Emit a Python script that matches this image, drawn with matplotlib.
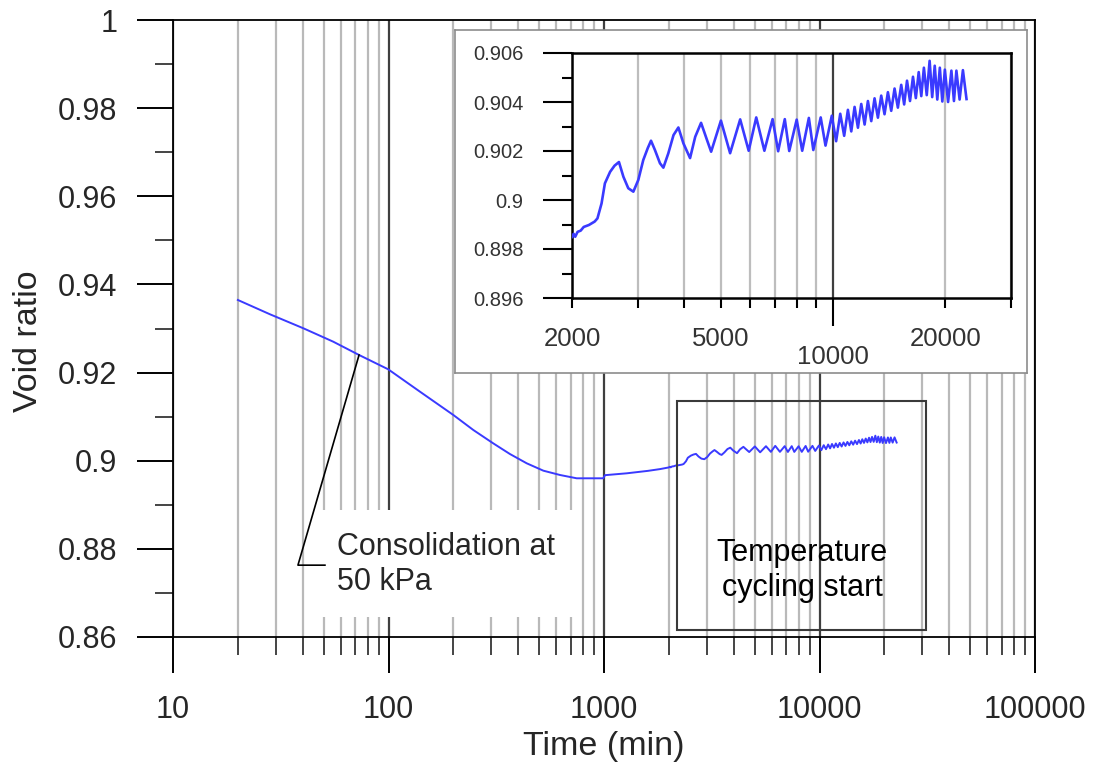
import matplotlib
matplotlib.use("Agg")
import matplotlib.pyplot as plt
from matplotlib.patches import Rectangle
from matplotlib.ticker import (FixedLocator, FuncFormatter, LogLocator,
                               MultipleLocator, NullFormatter)

plt.rcParams['font.family'] = ['Liberation Sans', 'DejaVu Sans']

# Consolidation stage at 50 kPa: time (min) and void ratio
consol_time = [20, 28.2, 40.3, 55.4, 73, 99.7, 140, 200, 247.5, 306, 366,
               438, 523, 625, 747, 992, 1011, 1274, 1600, 1820]
consol_void = [0.93647, 0.93322, 0.93004, 0.92701, 0.92399, 0.92074, 0.91566,
               0.91037, 0.90697, 0.90395, 0.90152, 0.89941, 0.89774, 0.89676,
               0.89601, 0.89601, 0.89672, 0.89714, 0.89770, 0.89810]

# Temperature cycling stage: time (min) and void ratio
cycling_time = [2000, 2020, 2040, 2070, 2110, 2150, 2220, 2300, 2340, 2400,
                2450, 2530, 2600, 2672, 2746, 2830, 2920, 3011, 3104, 3190,
                3256, 3336, 3441, 3514, 3622, 3741, 3855, 3977, 4143, 4277,
                4434, 4599, 4718, 5012, 5304, 5644, 5948, 6232, 6553, 6893,
                7134, 7432, 7639, 7998, 8275, 8622, 8861, 9275, 9554, 9932,
                10200, 10463, 10720, 10970, 11200, 11431, 11670, 11911, 12160,
                12410, 12670, 12930, 13200, 13473, 13750, 14039, 14330, 14628,
                14930, 15242, 15520, 15796, 16090, 16389, 16680, 16978, 17250,
                17530, 17840, 18160, 18450, 18740, 19040, 19340, 19640, 19950,
                20350, 20770, 21100, 21420, 21850, 22300, 22800]
cycling_void = [0.89848, 0.89862, 0.89850, 0.89870, 0.89875, 0.89890, 0.89898,
                0.89912, 0.89925, 0.89986, 0.90068, 0.90115, 0.90140, 0.90155,
                0.90095, 0.90048, 0.90034, 0.90082, 0.90163, 0.90211, 0.90242,
                0.90204, 0.90150, 0.90132, 0.90190, 0.90265, 0.90296, 0.90231,
                0.90171, 0.90258, 0.90315, 0.90245, 0.90197, 0.90324, 0.90191,
                0.90329, 0.90201, 0.90337, 0.90201, 0.90330, 0.90199, 0.90330,
                0.90200, 0.90328, 0.90201, 0.90335, 0.90204, 0.90337, 0.90222,
                0.90344, 0.90240, 0.90352, 0.90262, 0.90368, 0.90280, 0.90380,
                0.90295, 0.90392, 0.90308, 0.90404, 0.90322, 0.90415, 0.90336,
                0.90426, 0.90350, 0.90440, 0.90364, 0.90455, 0.90377, 0.90470,
                0.90390, 0.90487, 0.90404, 0.90503, 0.90416, 0.90522, 0.90424,
                0.90540, 0.90428, 0.90568, 0.90420, 0.90548, 0.90410, 0.90540,
                0.90402, 0.90532, 0.90400, 0.90528, 0.90404, 0.90528, 0.90410,
                0.90530, 0.90412]

time_all = consol_time + cycling_time
void_all = consol_void + cycling_void

x_major_ticks = [10, 100, 1000, 10000, 100000]
inset_labelled_minor = [2000, 5000, 20000]

LINE_COLOR = '#3a3aff'
TEXT_COLOR = '#262626'
W, H = 1098, 769

fig = plt.figure(figsize=(W / 100, H / 100), dpi=100)


def px_axes(left, top, right, bottom):
    return [left / W, (H - bottom) / H, (right - left) / W, (bottom - top) / H]


# ---------------- main axes ----------------
ax = fig.add_axes(px_axes(173, 20, 1035, 637))
ax.set_axisbelow(True)
ax.set_xscale('log')
ax.set_xlim(10, 100000)
ax.set_ylim(0.86, 1.0)

ax.xaxis.set_major_locator(FixedLocator(x_major_ticks))
ax.xaxis.set_major_formatter(FuncFormatter(lambda v, p: f"{v:.0f}"))
ax.xaxis.set_minor_locator(LogLocator(base=10, subs=range(2, 10)))
ax.xaxis.set_minor_formatter(NullFormatter())
ax.yaxis.set_major_locator(MultipleLocator(0.02))
ax.yaxis.set_minor_locator(MultipleLocator(0.01))
ax.yaxis.set_major_formatter(FuncFormatter(lambda v, p: f"{v:g}"))

ax.grid(which='minor', axis='x', color='#b9b9b9', lw=1.6)
ax.grid(which='major', axis='x', color='#3f3f3f', lw=1.6)

ax.tick_params(which='major', direction='out', length=26, width=1.4,
               labelsize=22, colors='black', labelcolor=TEXT_COLOR)
ax.tick_params(which='minor', direction='out', length=13, width=1.4,
               colors='#444444')
ax.tick_params(axis='y', which='major', pad=14)
ax.tick_params(axis='x', which='major', pad=16)
for s in ax.spines.values():
    s.set_linewidth(1.3)
    s.set_color('black')

ax.set_xlabel('Time (min)', fontsize=24.5, color=TEXT_COLOR)
ax.set_ylabel('Void ratio', fontsize=24.5, color=TEXT_COLOR)
ax.xaxis.set_label_coords(0.5, -0.177)
ax.xaxis.label.set_verticalalignment('center')
ax.yaxis.set_label_coords(-0.168, 0.48)
ax.yaxis.label.set_verticalalignment('center')

ax.plot(time_all, void_all, color=LINE_COLOR, lw=1.4, zorder=3,
        solid_joinstyle='round')

# white backing for the consolidation note
ax.add_patch(Rectangle((43.2, 0.8645), 749 - 43.2, 0.8888 - 0.8645,
                       facecolor='white', edgecolor='none', zorder=1))
ax.plot([73, 38, 50.7], [0.92399, 0.8763, 0.8763], color='black', lw=1.2,
        zorder=4)
ax.text(57.7, 0.87645, 'Consolidation at\n50 kPa', fontsize=22,
        color=TEXT_COLOR, ha='left', va='center', zorder=5)

# frame around the cycling stage
ax.add_patch(Rectangle((2183, 0.86159), 31200 - 2183, 0.91355 - 0.86159,
                       fill=False, edgecolor='#3a3a3a', lw=1.5, zorder=4))
ax.text(8295, 0.87509, 'Temperature\ncycling start', fontsize=22,
        color='black', ha='center', va='center', multialignment='center',
        zorder=5)

# ---------------- inset ----------------
box = fig.add_axes(px_axes(455, 30, 1027, 373))
box.set_facecolor('white')
box.set_xticks([])
box.set_yticks([])
for s in box.spines.values():
    s.set_color('#8c8c8c')
    s.set_linewidth(1.2)

ins = fig.add_axes(px_axes(572, 53, 1011, 298))
ins.set_axisbelow(True)
ins.set_xscale('log')
ins.set_xlim(2000, 30000)
ins.set_ylim(0.896, 0.906)
ins.xaxis.set_major_locator(FixedLocator([10000]))
ins.xaxis.set_major_formatter(FuncFormatter(lambda v, p: f"{v:.0f}"))
ins.xaxis.set_minor_locator(LogLocator(base=10, subs=range(2, 10)))
ins.xaxis.set_minor_formatter(FuncFormatter(
    lambda v, p: f"{v:.0f}" if round(v) in inset_labelled_minor else ""))
ins.yaxis.set_major_locator(MultipleLocator(0.002))
ins.yaxis.set_minor_locator(MultipleLocator(0.001))
ins.yaxis.set_major_formatter(FuncFormatter(lambda v, p: f"{round(v, 3):g}"))

ins.grid(which='minor', axis='x', color='#bdbdbd', lw=1.6)
ins.grid(which='major', axis='x', color='#3f3f3f', lw=1.6)

ins.tick_params(axis='y', which='major', direction='out', length=21,
                width=1.5, labelsize=14.5, pad=14, labelcolor='#333333')
ins.tick_params(axis='y', which='minor', direction='out', length=7, width=1.5)
ins.tick_params(axis='x', which='major', direction='out', length=20,
                width=1.5, labelsize=18.5, pad=14, labelcolor='#333333')
ins.tick_params(axis='x', which='minor', direction='out', length=7,
                width=1.5, labelsize=18.5, pad=14, labelcolor='#333333')
for s in ins.spines.values():
    s.set_linewidth(1.8)
    s.set_color('black')

ins.plot(time_all, void_all, color=LINE_COLOR, lw=1.9, zorder=3,
         solid_joinstyle='round')

fig.savefig('out.png', dpi=100, facecolor='white')
